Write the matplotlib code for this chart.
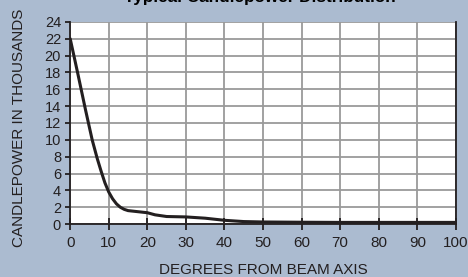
import matplotlib.pyplot as plt

plt.rcParams['font.family'] = ['Liberation Sans', 'DejaVu Sans']

# candlepower (thousands) vs degrees from beam axis
degrees = [0, 2, 4, 5.7, 7, 8, 9, 10, 11, 12, 13, 14, 15, 17, 20, 22, 25, 30, 35, 40, 45, 50, 60, 70, 80, 90, 100]
candlepower = [22, 17.8, 13.5, 10, 7.8, 6.3, 4.9, 3.8, 3.0, 2.4, 2.0, 1.75, 1.6, 1.5, 1.35, 1.1, 0.9, 0.85, 0.7, 0.45, 0.3, 0.25, 0.22, 0.2, 0.2, 0.2, 0.2]
xticks = list(range(0, 101, 10))
yticks = list(range(0, 25, 2))

bg = "#abbbd0"
ink = "#231f20"
fig = plt.figure(figsize=(4.68, 2.77), dpi=100, facecolor=bg)
ax = fig.add_axes([0.150, 0.191, 0.824, 0.730])
ax.set_facecolor("white")

ax.plot(degrees, candlepower, color=ink, lw=2.2, solid_capstyle="round")

ax.set_xlim(0, 100)
ax.set_ylim(0, 24)
ax.set_xticks(xticks)
ax.set_yticks(yticks)
ax.grid(color="#9a9a9a", lw=1.3)
ax.set_axisbelow(True)
ax.spines["top"].set_visible(False)
for s in ["left", "bottom", "right"]:
    ax.spines[s].set_color(ink)
    ax.spines[s].set_linewidth(1.3)
ax.tick_params(axis="x", direction="inout", length=9, width=1.3, labelsize=11, pad=4, color=ink, labelcolor=ink)
ax.tick_params(axis="y", direction="out", length=3.6, width=1.3, labelsize=10.5, pad=3, color=ink, labelcolor=ink)

fig.text(0.562, 0.027, "DEGREES FROM BEAM AXIS", ha="center", va="center", fontsize=11, color=ink)
fig.text(0.041, 0.538, "CANDLEPOWER IN THOUSANDS", ha="center", va="center", rotation=90,
         fontsize=11, color=ink)
fig.text(0.556, 0.991, "Typical Candlepower Distribution", ha="center", va="baseline",
         fontsize=12.3, fontweight="bold", color="black")

fig.savefig("out.png", dpi=100, facecolor=bg)
